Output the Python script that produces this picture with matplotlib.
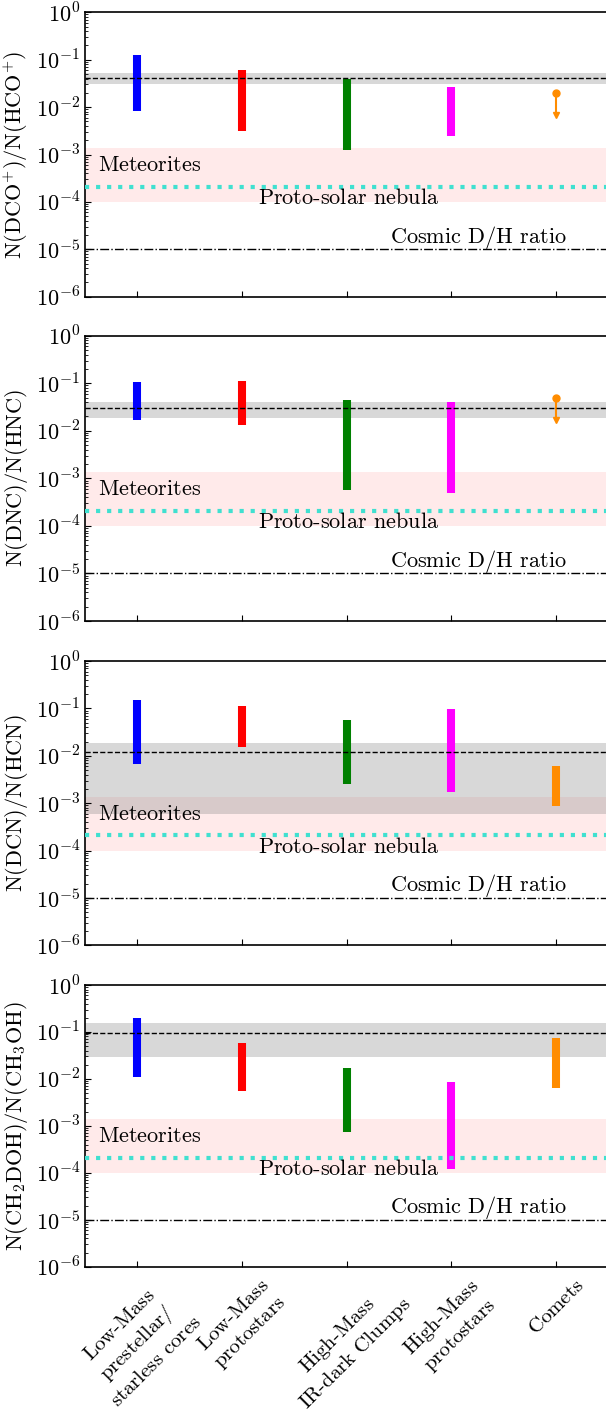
import matplotlib.pyplot as plt
import numpy as np

plt.rcParams['mathtext.fontset'] = 'cm'
plt.rcParams['font.size'] = 16

# Kategoriler (x ekseni)
categories = [
    r'$\text{Low-Mass}$' + '\n' + r'$\text{prestellar/}$' + '\n' + r'$\text{starless cores}$',
    r'$\text{Low-Mass}$' + '\n' + r'$\text{protostars}$',
    r'$\text{High-Mass}$' + '\n' + r'$\text{IR-dark Clumps}$',
    r'$\text{High-Mass}$' + '\n' + r'$\text{protostars}$',
    r'$\text{Comets}$',
]
colors = ['blue', 'red', 'green', 'magenta', 'darkorange']

ylabels = [
    r'$\mathrm{N(DCO^{+})/N(HCO^{+})}$',
    r'$\mathrm{N(DNC)/N(HNC)}$',
    r'$\mathrm{N(DCN)/N(HCN)}$',
    r'$\mathrm{N(CH_2DOH)/N(CH_3OH)}$',
]

# Aralıklar (alt, üst) -- kuyruklu yıldız için None = üst limit
dco_lo = [0.0084, 0.0032, 0.00126, 0.0025, None]
dco_hi = [0.124, 0.060, 0.039, 0.027, 0.020]
dnc_lo = [0.017, 0.0134, 5.7e-4, 4.9e-4, None]
dnc_hi = [0.106, 0.113, 0.045, 0.040, 0.049]
dcn_lo = [0.0066, 0.015, 0.0025, 0.0017, 0.00085]
dcn_hi = [0.148, 0.110, 0.058, 0.097, 0.0061]
ch2doh_lo = [0.0108, 0.0055, 7.3e-4, 1.22e-4, 0.0065]
ch2doh_hi = [0.195, 0.058, 0.0168, 0.0084, 0.073]

# Gri bant (alt, üst) ve kesikli çizgi
band_lo = [0.030, 0.019, 5.8e-4, 0.029]
band_hi = [0.052, 0.040, 0.0186, 0.155]
band_mid = [0.041, 0.030, 0.0122, 0.094]

# Referans değerler
meteor_lo, meteor_hi = 1e-4, 1.37e-3
protosolar = 2.1e-4
cosmic = 1e-5

# y ekseni etiketleri
ydecades = [-6, -5, -4, -3, -2, -1, 0]

lows = [dco_lo, dnc_lo, dcn_lo, ch2doh_lo]
highs = [dco_hi, dnc_hi, dcn_hi, ch2doh_hi]

W, H = 606, 1409
fig = plt.figure(figsize=(W / 100, H / 100), dpi=100)

# eksen konumları (piksel: üst, alt)
panels = [(12.3, 296.7), (335.7, 621.0), (661.0, 945.3), (985.0, 1266.7)]
left_px, right_px = 85, 608

x = np.arange(len(categories))

for i, (top, bot) in enumerate(panels):
    ax = fig.add_axes([left_px / W, 1 - bot / H, (right_px - left_px) / W, (bot - top) / H])
    ax.set_yscale('log')
    ax.set_ylim(1e-6, 1)
    ax.set_xlim(-0.5, 4.5)

    ax.axhspan(meteor_lo, meteor_hi, color='#ff9999', alpha=0.2, lw=0, zorder=0)
    ax.axhspan(band_lo[i], band_hi[i], color='gray', alpha=0.3, lw=0, zorder=0.5)

    for j in range(len(categories)):
        lo, hi = lows[i][j], highs[i][j]
        if lo is None:
            # üst limit
            ax.plot([x[j], x[j]], [hi, hi / 2.9], color=colors[j], lw=1.5, zorder=2)
            ax.plot(x[j], hi, 'o', color=colors[j], ms=5, zorder=2)
            ax.plot(x[j], hi / 2.9, 'v', color=colors[j], ms=5, zorder=2)
        else:
            ax.vlines(x[j], lo, hi, color=colors[j], lw=5.8, zorder=2)

    ax.axhline(band_mid[i], color='black', ls='--', lw=1, zorder=3)
    ax.axhline(protosolar, color='turquoise', ls=':', lw=3, zorder=3)
    ax.axhline(cosmic, color='black', ls='-.', lw=1, zorder=3)

    ax.text(-0.375, 6e-4, r'$\text{Meteorites}$', va='center', ha='left', fontsize=16)
    ax.text(1.15, 1.2e-4, r'$\text{Proto-solar nebula}$', va='center', ha='left', fontsize=16)
    ax.text(2.42, 1.8e-5, r'$\text{Cosmic D/H ratio}$', va='center', ha='left', fontsize=16)

    ax.set_ylabel(ylabels[i], fontsize=16, labelpad=4)
    ax.set_yticks([10.0 ** k for k in ydecades])
    ax.set_yticklabels([r'$10^{%d}$' % k for k in ydecades])
    ax.set_xticks(x)
    ax.tick_params(axis='both', which='both', direction='in')
    ax.tick_params(axis='both', which='major', length=4, labelsize=16)
    ax.tick_params(axis='y', which='minor', length=2)
    ax.tick_params(axis='x', which='minor', bottom=False)
    ax.spines['right'].set_visible(False)
    for s in ax.spines.values():
        s.set_linewidth(1.2)

    if i == len(panels) - 1:
        ax.set_xticklabels(categories, rotation=45, ha='center', multialignment='center', fontsize=15)
        ax.tick_params(axis='x', pad=6)
    else:
        ax.set_xticklabels([])

plt.savefig('out.png', dpi=100)
